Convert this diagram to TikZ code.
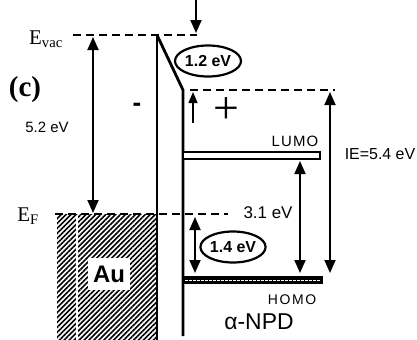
\documentclass[tikz,border=0pt]{standalone}
\usepackage{fontspec}
\setmainfont{Liberation Serif}
\setsansfont{Liberation Sans}
\usetikzlibrary{arrows.meta,patterns.meta,shapes.geometric}

\begin{document}
\begin{tikzpicture}[
  x=1bp, y=-1bp, >={Triangle[length=13bp,width=11bp]},
  level/.style={dash pattern=on 8bp off 5bp, line width=2bp},
  wall/.style={line width=2.8bp},
  arrow/.style={<->, line width=1.8bp},
  txt/.style={font=\sffamily\fontsize{16}{18}\selectfont, inner sep=0pt},
  oval/.style={ellipse, draw, line width=2.2bp, minimum width=66bp, minimum height=31bp, inner sep=0pt, font=\sffamily\bfseries\fontsize{16}{18}\selectfont}
]
\useasboundingbox (0,0) rectangle (417,340);

% metal
\fill[pattern={Lines[angle=45,distance=3.5bp,line width=1.6bp]}] (57,214) rectangle (157,340);
\draw[white, line width=1.2bp] (77,216) -- (77,340);
\node[fill=white, minimum width=42bp, minimum height=32bp, inner sep=0pt, font=\sffamily\bfseries\fontsize{24}{26}\selectfont] (au) at (109,274) {Au};

% interface
\coordinate (vac) at (157,35);
\coordinate (bend) at (183,90);
\draw[wall] (vac) -- (157,340);
\draw[wall] (vac) -- (bend) -- (183,336);

% levels
\draw[level] (73,35) -- (197,35);
\draw[level] (190,90) -- (335,90);
\draw[level] (55,214) -- (228,214);
\draw[line width=1.6bp, fill=white] (183,152) rectangle (320,159);
\draw[line width=1.6bp, fill=black] (183,277) rectangle (322,283);
\draw[white, dash pattern=on 3bp off 1bp, line width=0.8bp] (185,280) -- (320,280);

% arrows
\coordinate (wfTop) at (93,37);
\coordinate (wfBot) at (93,213);
\coordinate (dipTop) at (196,0);
\coordinate (dipBot) at (196,33);
\coordinate (shTop) at (193,92);
\coordinate (shBot) at (193,123);
\coordinate (hiTop) at (195,217);
\coordinate (hiBot) at (195,273);
\coordinate (gapTop) at (300,161);
\coordinate (gapBot) at (300,273);
\coordinate (ieTop) at (330,92);
\coordinate (ieBot) at (330,273);
\draw[arrow] (wfTop) -- (wfBot);
\draw[->, line width=1.8bp] (dipTop) -- (dipBot);
\draw[->, line width=1.5bp, >={Triangle[length=11bp,width=9bp]}] (shBot) -- (shTop);
\draw[arrow] (hiTop) -- (hiBot);
\draw[arrow] (gapTop) -- (gapBot);
\draw[arrow] (ieTop) -- (ieBot);

% labels
\node[inner sep=0pt, font=\fontsize{21}{23}\selectfont] (evac) at (46,39) {E\textsubscript{vac}};
\node[inner sep=0pt, font=\fontsize{21}{23}\selectfont] (ef) at (28,216) {E\textsubscript{F}};
\node[inner sep=0pt, font=\bfseries\fontsize{29}{31}\selectfont] (panel) at (25,90) {(c)};
\node[txt, font=\sffamily\fontsize{15}{17}\selectfont] (wf) at (47,127) {5.2 eV};
\node[txt, font=\sffamily\fontsize{17}{19}\selectfont] (gap) at (268,213) {3.1 eV};
\node[txt, font=\sffamily\fontsize{16}{18}\selectfont] (ie) at (380,154) {IE=5.4 eV};
\node[txt, font=\sffamily\fontsize{15}{17}\selectfont\addfontfeature{LetterSpace=8}] (lumo) at (295,141) {LUMO};
\node[txt, font=\sffamily\fontsize{14}{16}\selectfont\addfontfeature{LetterSpace=12}] (homo) at (292,300) {HOMO};
\node[txt, font=\sffamily\fontsize{23}{25}\selectfont] (npd) at (259,322) {α-NPD};
\node[txt, font=\sffamily\bfseries\fontsize{26}{28}\selectfont] (minus) at (137,107) {-};
\node[txt, font=\fontsize{46}{48}\selectfont] (plus) at (226,111) {+};
\node[oval] (dip) at (208,61) {1.2 eV};
\node[oval, minimum width=61bp] (hi) at (233,247) {1.4 eV};

\end{tikzpicture}
\end{document}
